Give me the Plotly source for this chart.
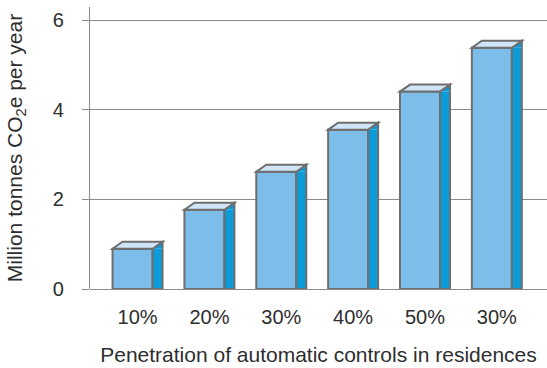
import plotly.graph_objects as go

# Emission savings by penetration level
categories = ["10%", "20%", "30%", "40%", "50%", "30%"]
savings = [0.90, 1.77, 2.62, 3.56, 4.41, 5.39]
y_ticks = [0, 2, 4, 6]

positions = list(range(len(categories)))

FRONT = "#7cbde9"
SIDE = "#0a9bd8"
TOP = "#cfe4f6"
EDGE = "#6e6e6e"
GRID = "#8a8a8a"
TEXT = "#2e2e2e"
FONT = "Liberation Sans, Arial, sans-serif"

front_w = 0.557      # width of the front face (x units)
front_off = -0.348   # left edge of the front face relative to the category
depth_x = 0.139      # horizontal depth of the extruded box (x units)
depth_y = 7          # vertical depth of the box top (pixels)

fig = go.Figure()
fig.add_trace(go.Bar(
    x=positions, y=savings,
    width=front_w, offset=front_off,
    marker=dict(color=FRONT, line=dict(color=EDGE, width=2)),
    hoverinfo="skip",
))

shapes = []
for xp, v in zip(positions, savings):
    xl = xp + front_off
    xr = xl + front_w
    # side face (left, bottom and right edges stroked)
    shapes.append(dict(
        type="path", xref="x", yref="y",
        path=f"M{xr},{v} L{xr},0 L{xr + depth_x},0 L{xr + depth_x},{v}",
        fillcolor=SIDE, line=dict(color=EDGE, width=2), layer="above",
    ))
    # slanted cap of the side face
    shapes.append(dict(
        type="path", xref="x", yref="y", ysizemode="pixel", yanchor=v,
        path=f"M{xr},0 L{xr + depth_x},{depth_y} L{xr + depth_x},0",
        fillcolor=SIDE, line=dict(color=EDGE, width=2), layer="above",
    ))
    # top face
    shapes.append(dict(
        type="path", xref="x", yref="y", ysizemode="pixel", yanchor=v,
        path=(f"M{xl},0 L{xl + depth_x},{depth_y} "
              f"L{xr + depth_x},{depth_y} L{xr},0 Z"),
        fillcolor=TOP, line=dict(color=EDGE, width=2), layer="above",
    ))

fig.update_layout(
    width=547, height=368,
    margin=dict(l=90, r=0, t=7, b=79),
    paper_bgcolor="white", plot_bgcolor="white",
    showlegend=False,
    shapes=shapes,
    font=dict(family=FONT, size=20, color=TEXT),
    xaxis=dict(
        range=[-0.662, 5.698],
        tickmode="array", tickvals=positions, ticktext=categories,
        showgrid=False, zeroline=False, showline=False,
        ticks="", ticklabelstandoff=14,
        tickfont=dict(size=20, color=TEXT),
        title=dict(text="Penetration of automatic controls in residences",
                   font=dict(size=21, color=TEXT), standoff=20),
    ),
    yaxis=dict(
        range=[0, 6.3],
        tickmode="array", tickvals=y_ticks,
        showgrid=True, gridcolor=GRID, gridwidth=1.2,
        zeroline=True, zerolinecolor=GRID, zerolinewidth=1.2,
        showline=True, linecolor=GRID, linewidth=1.2,
        ticks="outside", ticklen=7, tickcolor=GRID, tickwidth=1.2,
        ticklabelstandoff=14,
        tickfont=dict(size=20, color=TEXT),
        title=dict(text="Million tonnes CO<sub>2</sub>e per year",
                   font=dict(size=21, color=TEXT), standoff=24),
    ),
)

fig.write_html("out.html")
